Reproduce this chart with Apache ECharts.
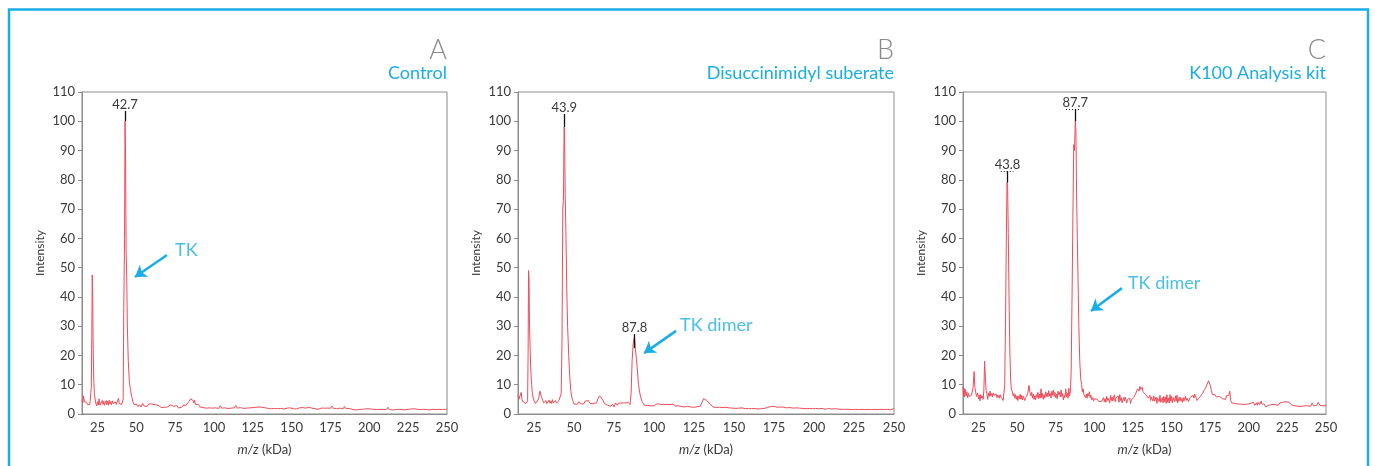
<!DOCTYPE html>
<html>
<head>
<meta charset="utf-8">
<title>TK MALDI spectra</title>
<script src="https://cdn.jsdelivr.net/npm/echarts@6/dist/echarts.min.js"></script>
<style>
  html, body { margin: 0; padding: 0; background: #fff; }
  #chart { width: 1375px; height: 466px; }
</style>
</head>
<body>
<div id="chart"></div>
<script>
// m/z (kDa) vs intensity
const xTicks = [25, 50, 75, 100, 125, 150, 175, 200, 225, 250]
const panelLetters = ['A', 'B', 'C']
const panelNames = ['Control', 'Disuccinimidyl suberate', 'K100 Analysis kit']

const controlSpectrum = [
  [15,4.8],[15.5,3.8],[16,6.2],[16.5,4.2],[17,4.6],[17.5,3.6],[18,4.0],[18.5,3.2],[19,3.5],[19.5,2.9],
  [20,3.2],[20.5,3.0],[21,9],[21.3,26],[21.6,47.5],[21.9,40],[22.2,22],[22.6,11],[23,7],[23.5,4.8],
  [24,3.5],[24.5,2.8],[25,4.2],[25.5,3.1],[26,5.2],[26.5,3.0],[27,3.6],[27.5,2.7],[28,4.6],[28.5,3.3],
  [29,4.3],[29.5,3.0],[30,3.8],[30.5,4.6],[31,3.2],[31.5,4.4],[32,3.0],[32.5,4.7],[33,3.5],[33.5,4.2],
  [34,3.1],[34.5,4.5],[35,3.6],[35.5,3.9],[36,3.0],[36.5,4.1],[37,3.3],[37.5,3.6],[38,2.9],[38.5,5.4],
  [39,3.6],[39.5,4.2],[40,3.0],[40.5,3.2],[41,3.6],[41.5,5],[41.9,36],[42.4,60],[42.7,100],[43.0,92],
  [43.4,55],[43.8,47],[44.2,30],[44.8,18],[45.5,11],[46.3,8],[47,6],[47.8,4.2],[48.5,3.2],[49,2.6],
  [50,3.4],[51,2.5],[52,3.2],[53,2.4],[54,3.6],[55,2.7],[56,3.3],[57,2.6],[58,3.5],[59,3.0],
  [60,3.4],[61,2.9],[62,3.2],[63,2.8],[64,3.0],[65,2.5],[66,2.2],[67,2.7],[68,2.3],[69,2.8],
  [70,2.4],[71,2.9],[72,3.1],[73,3.2],[74,2.6],[75,2.3],[76,2.9],[77,2.1],[78,2.7],[79,2.2],
  [80,3.0],[81,2.4],[82,3.0],[83,3.6],[84,4.4],[85,5.2],[85.8,5.6],[86.5,4.6],[87,3.8],[87.5,4.8],
  [88,3.3],[89,2.8],[90,3.2],[91,2.4],[92,2.9],[93,2.2],[94,2.6],[95,2.0],[96,2.4],[97,2.1],
  [98,2.5],[99,2.0],[100,2.3],[101,2.1],[102,2.4],[103,1.9],[104,2.8],[105,2.0],[106,2.3],[107,2.1],
  [108,2.6],[109,1.9],[110,2.3],[111,2.0],[112,2.5],[113,2.1],[114,2.9],[115,2.0],[116,2.4],[117,2.2],
  [118,2.5],[119,1.9],[120,2.3],[121,2.0],[122,2.4],[123,2.1],[124,2.6],[125,2.2],[126,2.4],[127,2.3],
  [128,2.6],[129,2.4],[130,2.9],[131,2.3],[132,2.5],[133,2.1],[134,2.3],[135,1.9],[136,2.1],[137,1.8],
  [138,2.0],[139,1.9],[140,2.1],[141,1.8],[142,2.0],[143,1.9],[144,2.2],[145,1.7],[146,1.9],[147,2.0],
  [148,1.8],[149,2.1],[150,1.9],[151,1.8],[152,2.0],[153,1.7],[154,1.9],[155,2.1],[156,1.8],[157,2.2],
  [158,1.7],[159,2.0],[160,1.8],[161,2.3],[162,1.9],[163,2.0],[164,2.2],[165,1.8],[166,2.1],[167,1.6],
  [168,1.4],[169,2.0],[170,2.1],[171,2.0],[172,2.1],[173,2.0],[174,2.1],[175,2.0],[176,2.7],[177,1.9],
  [178,2.2],[179,1.8],[180,2.4],[181,2.0],[182,2.2],[183,1.7],[184,2.6],[185,1.8],[186,2.2],[187,1.9],
  [188,2.0],[189,1.6],[190,1.7],[191,1.4],[192,1.6],[193,1.5],[194,1.8],[195,1.6],[196,1.5],[197,1.7],
  [198,1.6],[199,1.8],[200,1.5],[201,1.7],[202,1.4],[203,1.6],[204,1.8],[205,1.5],[206,1.9],[207,1.6],
  [208,2.0],[209,1.5],[210,1.8],[211,1.6],[212,2.3],[213,1.5],[214,1.7],[215,1.4],[216,1.8],[217,1.5],
  [218,1.9],[219,1.6],[220,2.2],[221,1.5],[222,1.7],[223,1.4],[224,1.8],[225,1.6],[226,2.0],[227,1.7],
  [228,1.5],[229,1.8],[230,1.4],[231,1.6],[232,1.2],[233,1.5],[234,1.9],[235,1.6],[236,1.8],[237,1.5],
  [238,1.7],[239,1.4],[240,2.0],[241,1.6],[242,1.8],[243,1.5],[244,1.9],[245,1.6],[246,1.8],[247,1.5],
  [248,1.9],[249,1.6],[250,1.7]
]

const dssSpectrum = [
  [15,6.2],[15.5,5.0],[16,5.6],[16.5,4.6],[17,7.4],[17.5,4.8],[18,4.5],[18.5,4.0],[19,4.2],[19.5,3.4],
  [20,3.6],[20.5,3.2],[21,4.5],[21.3,20],[21.6,49],[21.9,46],[22.2,30],[22.6,22],[23,15],[23.5,10],
  [24,7],[24.5,5.5],[25,4.6],[25.5,4],[26,3.6],[26.5,3.9],[27,4.2],[27.5,4.8],[28,5.6],[28.7,7.8],
  [29.3,7.4],[29.8,5.6],[30.5,4.6],[31,3.8],[31.5,4.3],[32,3.4],[32.5,4.6],[33,3.6],[33.5,4.2],[34,3.5],
  [34.5,4.8],[35,3.7],[35.5,4.4],[36,3.6],[36.5,4.9],[37,3.8],[37.5,4.3],[38,3.9],[38.5,4.6],[39,3.7],
  [39.5,4.2],[40,3.8],[40.5,4.5],[41,4.1],[41.5,4.4],[42,7],[42.5,25],[43,70],[43.4,73],[43.8,98],
  [44.1,96],[44.5,75],[45,60],[45.5,42],[46,30],[46.7,20],[47.3,13],[48,8],[48.7,5.5],[49.5,4.2],
  [50,3.4],[51,4.0],[52,3.3],[53,4.2],[54,3.5],[55,3.9],[56,3.4],[57,4.4],[58,3.8],[59,4.6],
  [60,3.6],[61,4.0],[62,3.5],[63,4.1],[64,3.8],[65,5.2],[66,6.2],[67,5.6],[68,4.8],[69,3.6],
  [70,4.0],[71,3.0],[72,3.6],[73,2.6],[74,3.4],[75,2.4],[76,3.8],[77,3.0],[78,3.7],[79,3.3],
  [80,3.8],[81,3.5],[82,3.8],[83,3.4],[84,3.9],[85,3.2],[85.7,7],[86.3,18],[87,24],[87.8,26.5],
  [88.4,22],[89,19],[89.6,15],[90.3,10],[91,7.5],[91.8,5.5],[92.6,4.2],[93.5,3.6],[94,3.0],[95,3.3],
  [96,2.9],[97,3.4],[98,2.8],[99,3.2],[100,2.8],[101,3.4],[102,3.5],[103,2.9],[104,3.3],[105,2.7],
  [106,3.2],[107,3.0],[108,3.3],[109,2.8],[110,3.2],[111,2.9],[112,3.4],[113,2.7],[114,3.1],[115,2.8],
  [116,3.3],[117,2.6],[118,3.0],[119,2.4],[120,3.0],[121,2.6],[122,2.9],[123,2.4],[124,2.8],[125,2.3],
  [126,2.9],[127,2.5],[128,3.0],[129,2.7],[130,4.0],[131,5.3],[132,5.6],[133,4.6],[134,4.2],[135,3.3],
  [136,3.0],[137,2.4],[138,2.7],[139,2.2],[140,2.5],[141,2.3],[142,2.6],[143,2.2],[144,2.7],[145,2.3],
  [146,2.5],[147,2.1],[148,2.3],[149,2.0],[150,2.2],[151,1.9],[152,2.4],[153,2.0],[154,2.6],[155,2.1],
  [156,2.3],[157,1.8],[158,2.2],[159,1.9],[160,2.1],[161,1.8],[162,2.3],[163,1.9],[164,2.1],[165,1.7],
  [166,2.0],[167,1.8],[168,2.2],[169,1.9],[170,2.0],[171,2.3],[172,2.1],[173,2.5],[174,2.2],[175,2.6],
  [176,2.0],[177,2.3],[178,2.1],[179,2.4],[180,1.9],[181,2.3],[182,1.8],[183,2.1],[184,1.9],[185,2.2],
  [186,1.8],[187,2.0],[188,1.7],[189,2.1],[190,1.8],[191,2.0],[192,1.7],[193,1.9],[194,1.6],[195,1.8],
  [196,1.7],[197,1.9],[198,1.7],[199,1.8],[200,1.6],[201,1.9],[202,1.7],[203,1.8],[204,1.6],[205,1.9],
  [206,1.4],[207,1.6],[208,1.5],[209,1.9],[210,1.5],[211,1.7],[212,1.6],[213,1.8],[214,1.5],[215,1.7],
  [216,1.5],[217,1.6],[218,1.5],[219,1.6],[220,1.5],[222,1.6],[224,1.5],[226,1.6],[228,1.5],[230,1.6],
  [232,1.5],[234,1.6],[236,1.5],[238,1.6],[240,1.5],[241,1.9],[242,1.6],[243,1.8],[244,1.5],[245,1.9],
  [246,1.6],[247,1.8],[248,1.4],[249,1.1],[250,1.9]
]

const kitSpectrum = [
  [15,9.5],[15.3,6.2],[15.7,8.8],[16,5.8],[16.5,8.4],[17,6.2],[17.5,7.6],[18,5.6],[18.5,7.0],[19,6.0],
  [19.5,6.6],[20,5.5],[20.5,6.4],[21,6.0],[21.5,9],[22.2,14.5],[22.7,9],[23.2,7.5],[23.8,6],[24.5,7.2],
  [25,5.2],[25.5,6.4],[26,4.5],[26.5,6.6],[27,5.4],[27.5,6.2],[28,5.0],[28.5,8],[29,18],[29.5,12],
  [30,8],[30.5,6.8],[31,5.0],[31.5,7.2],[32,6.0],[32.5,7.8],[33,6.2],[33.5,7.0],[34,5.8],[34.5,7.2],
  [35,6.4],[35.5,7.0],[36,6.0],[36.5,6.8],[37,5.6],[37.5,6.5],[38,6.2],[38.5,5.4],[39,6.6],[39.5,5.8],
  [40,5.2],[40.5,6.0],[41,4.6],[41.5,5.2],[42,10],[42.5,30],[43,58],[43.5,79],[43.9,77],[44.3,62],
  [44.8,40],[45.3,22],[45.8,12],[46.3,8.5],[47,7.5],[47.5,6.2],[48,7.0],[48.5,5.4],[49,6.6],[49.5,5.0],
  [50,6.2],[50.5,4.6],[51,6.0],[51.5,5.2],[52,6.8],[52.5,5.0],[53,6.4],[53.5,4.8],[54,6.0],[54.5,5.4],
  [55,4.6],[55.5,5.6],[56,5.0],[56.5,6.4],[57,7.2],[57.7,9.8],[58.3,7.4],[59,6.2],[59.5,7.4],[60,5.4],
  [60.5,6.8],[61,5.0],[61.5,6.2],[62,4.8],[62.5,6.6],[63,5.6],[63.5,7.4],[64,5.2],[64.5,6.8],[65,5.4],
  [65.5,8.6],[66,5.6],[66.5,7.0],[67,5.0],[67.5,6.6],[68,5.4],[68.5,7.6],[69,6.0],[69.5,7.2],[70,5.8],
  [70.5,8.0],[71,6.2],[71.5,7.0],[72,5.4],[72.5,7.8],[73,6.4],[73.5,8.2],[74,6.0],[74.5,7.4],[75,5.6],
  [75.5,6.8],[76,5.2],[76.5,7.8],[77,6.6],[77.5,7.4],[78,5.8],[78.5,8.2],[79,6.0],[79.5,7.0],[80,4.8],
  [80.5,6.4],[81,5.6],[81.5,8.6],[82,5.8],[82.5,7.2],[83,5.4],[83.5,8.8],[84,6.2],[84.5,7.6],[85,14],
  [85.6,40],[86.2,70],[86.7,92],[87.2,90],[87.7,100],[88.1,97],[88.5,76],[89,60],[89.5,45],[90,30],
  [90.6,18],[91.2,12],[91.8,10],[92.3,7.5],[92.8,8.6],[93.3,6.6],[93.8,7.2],[94.3,5.6],[94.8,6.8],[95.3,5.4],
  [95.8,7.0],[96.3,6.2],[96.8,7.6],[97.3,5.6],[97.8,6.4],[98.3,4.8],[99,5.6],[99.5,4.4],[100,5.2],[101,4.6],
  [102,5.0],[103,4.2],[104,4.8],[105,4.4],[106,5.6],[106.5,4.2],[107,5.2],[107.5,4.0],[108,6.0],[108.5,4.6],
  [109,5.4],[110,3.8],[110.5,6.4],[111,4.6],[111.5,5.8],[112,4.4],[113,6.6],[113.5,4.2],[114,5.4],[115,4.8],
  [115.5,6.2],[116,4.0],[116.5,6.6],[117,4.6],[117.5,5.6],[118,3.8],[119,5.6],[119.5,4.4],[120,5.8],[121,3.8],
  [121.5,5.0],[122,4.4],[123,5.4],[123.5,3.6],[124,4.8],[125,4.2],[125.5,5.6],[126,6.0],[127,7.2],[128,8.6],
  [129,7.8],[129.5,9.4],[130,8.4],[131,9.2],[131.5,7.6],[132,8.0],[133,6.8],[134,7.2],[135,5.4],[136,6.4],
  [136.5,4.6],[137,5.8],[138,4.4],[138.5,6.2],[139,4.4],[140,5.8],[140.5,3.6],[141,5.4],[142,4.2],[142.5,6.4],
  [143,4.0],[144,5.6],[144.5,3.8],[145,6.0],[145.5,4.2],[146,5.8],[146.5,3.6],[147,6.6],[147.5,4.0],[148,5.4],
  [148.5,3.8],[149,6.6],[149.5,4.4],[150,6.0],[150.5,3.8],[151,5.6],[152,4.2],[152.5,6.2],[153,4.4],[153.5,6.4],
  [154,3.8],[155,5.8],[155.5,4.4],[156,5.6],[157,4.0],[157.5,5.6],[158,4.4],[159,6.0],[159.5,4.6],[160,5.4],
  [161,4.2],[162,5.6],[163,5.0],[164,6.4],[164.5,5.4],[165,6.8],[166,5.4],[166.5,4.6],[167,4.2],[168,5.6],
  [169,6.2],[170,7.0],[171,8.0],[172,8.8],[173,9.4],[174,11.4],[174.6,11.8],[175.2,9.6],[175.8,8.0],[176.5,6.6],
  [177,7.0],[177.5,6.0],[178,6.6],[179,5.8],[179.5,6.4],[180,5.6],[181,6.0],[181.5,5.4],[182,5.8],[183,5.2],
  [183.5,5.8],[184,5.4],[185,5.0],[185.5,6.2],[186,5.6],[187,6.4],[187.7,7.8],[188.3,4.6],[189,3.8],[190,4.0],
  [191,3.6],[192,4.0],[193,3.4],[194,3.8],[195,3.4],[196,3.8],[197,3.2],[198,3.8],[199,3.4],[200,3.0],
  [201,3.6],[202,3.2],[203,4.0],[204,3.0],[205,3.8],[205.5,3.0],[206,4.0],[207,3.2],[208,4.4],[208.5,3.4],
  [209,4.0],[210,3.4],[211,2.4],[212,2.0],[213,3.0],[214,3.6],[215,3.2],[216,3.8],[217,3.2],[218,3.6],
  [219,3.0],[220,3.8],[221,3.2],[222,4.0],[223,3.4],[224,4.2],[225,3.6],[226,4.0],[227,3.4],[228,3.0],
  [229,3.4],[230,2.8],[231,3.2],[232,2.6],[233,3.0],[234,2.6],[235,3.2],[236,2.8],[237,3.4],[238,2.8],
  [239,3.2],[240,2.6],[241,3.8],[242,2.8],[243,3.4],[244,3.0],[245,4.0],[246,3.0],[247,3.2],[248,2.8],
  [249,3.0],[250,2.9]
]

// peak callouts: [m/z, line bottom, line top]
const controlPeaks = [[42.7, 100, 103.5]]
const dssPeaks = [[43.9, 98, 102.5], [87.8, 22.5, 27.3]]
const kitPeaks = [[43.8, 79, 83], [87.7, 100, 104.2]]
// dotted marks under the kit labels: [from m/z, to m/z, intensity]
const kitPeakTicks = [[39.4, 47.6, 83], [81.7, 90.7, 104.2]]

// arrow annotations
const noteTexts = ['TK', 'TK dimer', 'TK dimer']
const noteAnchors = [[74.9, 56], [116.3, 30.4], [121.8, 44.8]]
const arrowStarts = [[69.7, 54.3], [113.8, 28.4], [117.9, 43]]
const arrowEnds = [[49.1, 46.8], [93.8, 20.8], [97.8, 35.2]]

const CYAN = '#1aaee6'
const RED = '#f04b58'
const AXIS = '#8c8c8c'
const TEXT = '#3a3a3a'
const FONT = 'Lato'

const spectra = [controlSpectrum, dssSpectrum, kitSpectrum]
const peaks = [controlPeaks, dssPeaks, kitPeaks]
const peakTicks = [[], [], kitPeakTicks]

const grids = [
  { left: 82, right: 928, top: 92, bottom: 52 },
  { left: 518, right: 481, top: 92, bottom: 52 },
  { left: 963, right: 49, top: 92, bottom: 52 }
]

const chart = echarts.init(document.getElementById('chart'), null, { renderer: 'canvas' })

const titles = []
const xAxes = []
const yAxes = []
const series = []

grids.forEach((g, i) => {
  titles.push({
    text: panelLetters[i], right: g.right, top: 37, padding: 0,
    textStyle: { fontFamily: FONT, fontSize: 27, fontWeight: 300, color: '#8a8a8a' }
  })
  titles.push({
    text: panelNames[i], right: g.right, top: 64, padding: 0,
    textStyle: { fontFamily: FONT, fontSize: 18, fontWeight: 'normal', color: CYAN }
  })

  xAxes.push({
    type: 'value', gridIndex: i, min: 15, max: 250,
    axisLine: { show: true, lineStyle: { color: AXIS, width: 1 } },
    axisTick: { show: false },
    splitLine: { show: false },
    axisLabel: { customValues: xTicks, color: TEXT, fontSize: 13, fontFamily: FONT, margin: 7 },
    name: '{i|m/z} (kDa)',
    nameLocation: 'middle', nameGap: 29,
    nameTextStyle: {
      color: TEXT, fontSize: 13, fontFamily: FONT,
      rich: { i: { fontStyle: 'italic', fontSize: 13, fontFamily: FONT, color: TEXT } }
    }
  })

  yAxes.push({
    type: 'value', gridIndex: i, min: 0, max: 110, interval: 10,
    axisLine: { show: true, lineStyle: { color: AXIS, width: 1 } },
    axisTick: { show: true, length: 4, lineStyle: { color: AXIS } },
    splitLine: { show: false },
    axisLabel: { color: TEXT, fontSize: 13, fontFamily: FONT, margin: 7 },
    name: 'Intensity', nameLocation: 'middle', nameGap: 36,
    nameTextStyle: { color: TEXT, fontSize: 12, fontFamily: FONT }
  })

  const calloutLines = peaks[i].map(p => [
    {
      coord: [p[0], p[1]],
      lineStyle: { color: '#111', width: 1.3, type: 'solid' },
      label: {
        show: true, position: 'end', distance: 0, formatter: String(p[0]),
        color: TEXT, fontSize: 13, fontFamily: FONT,
        backgroundColor: '#fff', padding: [0, 3]
      }
    },
    { coord: [p[0], p[2]] }
  ])
  const dotLines = peakTicks[i].map(t => [
    { coord: [t[0], t[2]], lineStyle: { color: '#222', width: 1, type: [1, 2] }, label: { show: false } },
    { coord: [t[1], t[2]] }
  ])

  series.push({
    type: 'line', xAxisIndex: i, yAxisIndex: i,
    data: spectra[i],
    showSymbol: false, symbol: 'none',
    lineStyle: { color: RED, width: 1 },
    animation: false, silent: true,
    markLine: {
      silent: true, symbol: 'none', animation: false,
      data: dotLines.concat(calloutLines)
    }
  })

  series.push({
    type: 'scatter', xAxisIndex: i, yAxisIndex: i,
    data: [noteAnchors[i]],
    symbolSize: 0, silent: true, animation: false,
    label: {
      show: true, position: 'right', distance: 0, formatter: noteTexts[i],
      color: CYAN, fontSize: 18, fontFamily: FONT
    },
    markLine: {
      silent: true, animation: false,
      symbol: ['none', 'arrow'], symbolSize: 11,
      lineStyle: { color: CYAN, width: 2.5, type: 'solid' },
      label: { show: false },
      data: [[{ coord: arrowStarts[i] }, { coord: arrowEnds[i] }]]
    }
  })
})

chart.setOption({
  animation: false,
  backgroundColor: '#fff',
  textStyle: { fontFamily: FONT },
  title: titles,
  grid: grids.map(g => Object.assign({ show: true, borderColor: AXIS, borderWidth: 1, backgroundColor: 'transparent' }, g)),
  xAxis: xAxes,
  yAxis: yAxes,
  series: series,
  graphic: [{
    type: 'rect', silent: true, z: 100,
    shape: { x: 9, y: 9.5, width: 1359, height: 520 },
    style: { fill: 'none', stroke: CYAN, lineWidth: 2.5 }
  }]
})

window.addEventListener('resize', () => chart.resize())
</script>
</body>
</html>
